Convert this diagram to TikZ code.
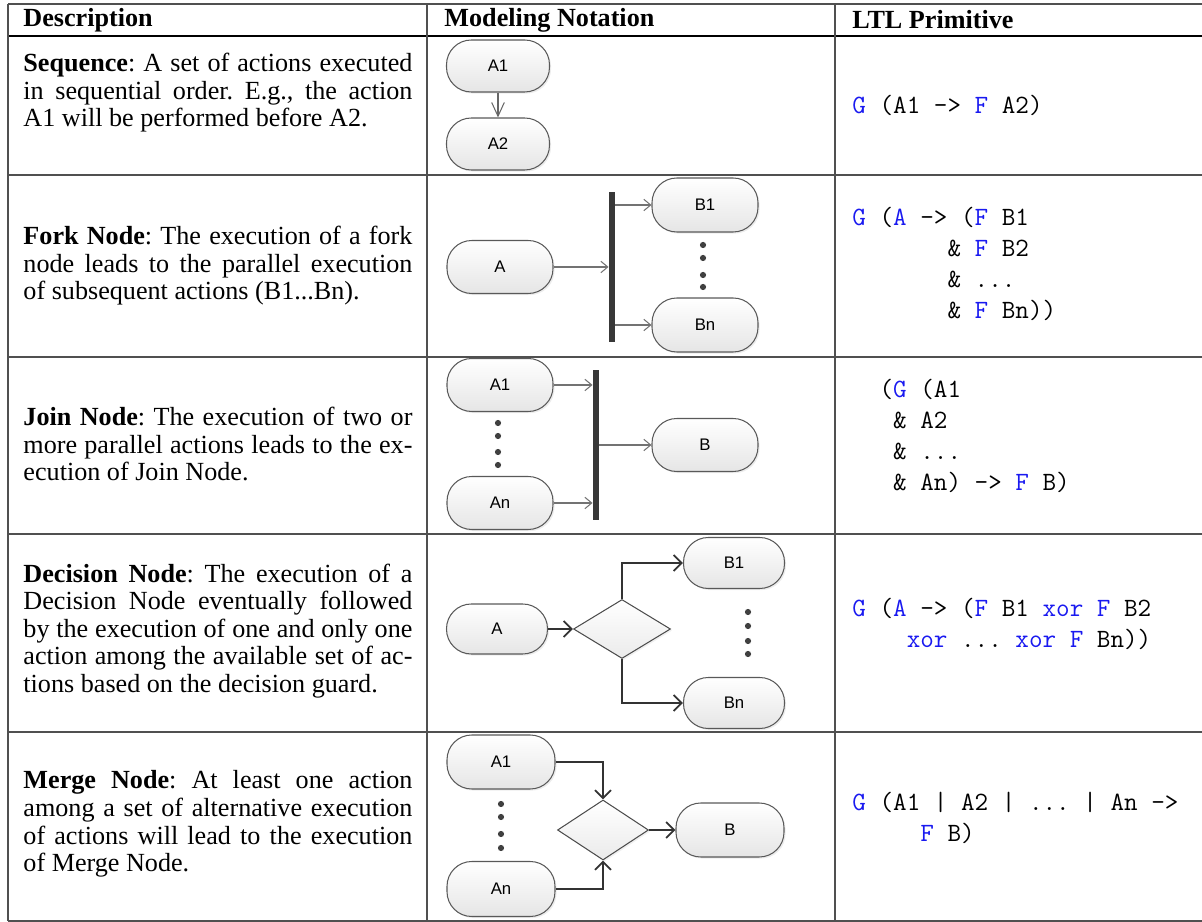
\documentclass[tikz,border=0pt]{standalone}
\usepackage{fontspec}
\setmainfont{Liberation Serif}
\newfontfamily\boxfont{Liberation Sans}
\usetikzlibrary{shapes.geometric,shadows,arrows.meta}
\definecolor{ltlblue}{RGB}{25,25,240}
\definecolor{rulegray}{RGB}{80,80,80}
\newcommand{\px}{0.436pt}
\newcommand{\kw}[1]{\textcolor{ltlblue}{#1}}
\frenchspacing

\begin{document}
\begin{tikzpicture}[x=0.436pt,y=-0.436pt]

      \tikzset{rule/.style={draw=rulegray, line width=0.6pt},
        head/.style={anchor=west, inner sep=0pt, font=\fontsize{11.4}{12}\selectfont\bfseries},
        desc/.style={anchor=west, inner sep=0pt, text width=169.6pt, align=justify, font=\fontsize{11.4}{12}\selectfont},
        ltl/.style={anchor=west, inner sep=0pt, align=left, font=\ttfamily\fontsize{11.5}{13.5}\selectfont},
        action/.style 2 args={draw=black!65, line width=0.45pt, rounded corners=10.8pt, top color=white, bottom color=black!10,
          minimum width=#1*\px, minimum height=#2*\px, inner sep=0pt, font=\boxfont\fontsize{7.3}{8}\selectfont,
          drop shadow={opacity=0.15, shadow xshift=0.7pt, shadow yshift=-0.7pt}},
        guard/.style 2 args={diamond, draw=black!70, line width=0.45pt, top color=white, bottom color=black!8,
          minimum width=#1*\px, minimum height=#2*\px, inner sep=0pt,
          drop shadow={opacity=0.12, shadow xshift=0.7pt, shadow yshift=-0.7pt}},
        syncbar/.style={fill=black!78, inner sep=0pt, minimum width=6*\px, minimum height=150*\px},
        seqflow/.style={draw=black!60, line width=0.45pt, -{Straight Barb[length=6pt,width=5.5pt]}},
        barflow/.style={draw=black!55, line width=0.45pt, -{Straight Barb[length=3pt,width=5pt]}},
        guardflow/.style={draw=black!80, line width=0.8pt, -{Straight Barb[length=3.5pt,width=7pt]}},
        dot/.style={fill=black!75}}

      \useasboundingbox (0,0) rectangle (1202,922);

%% Table rules
      \draw[rule] (8,4) -- (1202,4);
      \draw[rule, draw=black, line width=0.75pt] (8,36) -- (1202,36);
      \foreach \y in {175,357,534,732,921}
        \draw[rule] (8,\y) -- (1202,\y);
      \foreach \x in {8,427,835}
        \draw[rule] (\x,4) -- (\x,921);

%% Header
      \node[head] (hdesc) at (23,20) {Description};
      \node[head] (hnot) at (444,20) {Modeling Notation};
      \node[head] (hltl) at (852,20) {LTL Primitive};

%% Descriptions
      \node[desc] (dseq) at (23,93) {\textbf{Sequence}: A set of actions executed\linebreak
        in sequential order. E.g., the action\linebreak A1 will be performed before A2.};
      \node[desc] (dfork) at (23,266) {\textbf{Fork Node}: The execution of a fork\linebreak
        node leads to the parallel execution\linebreak of subsequent actions (B1...Bn).};
      \node[desc] (djoin) at (23,444) {\textbf{Join Node}: The execution of two or\linebreak
        more parallel actions leads to the ex-\linebreak ecution of Join Node.};
      \node[desc] (ddec) at (23,631) {\textbf{Decision Node}: The execution of a\linebreak
        Decision Node eventually followed\linebreak by the execution of one and only one\linebreak
        action among the available set of ac-\linebreak tions based on the decision guard.};
      \node[desc] (dmerge) at (23,824) {\textbf{Merge Node}: At least one action\linebreak
        among a set of alternative execution\linebreak of actions will lead to the execution\linebreak
        of Merge Node.};

%% LTL primitives
      \node[ltl] (lseq) at (852,105) {\kw{G} (A1 -> \kw{F} A2)};
      \node[ltl] (lfork) at (852,264) {\kw{G} (\kw{A} -> (\kw{F} B1\\
        \phantom{G (A ->}\& \kw{F} B2\\ \phantom{G (A ->}\& ...\\ \phantom{G (A ->}\& \kw{F} Bn))};
      \node[ltl] (ljoin) at (852,436) {\phantom{xx}(\kw{G} (A1\\
        \phantom{xxx}\& A2\\ \phantom{xxx}\& ...\\ \phantom{xxx}\& An) -> \kw{F} B)};
      \node[ltl] (ldec) at (852,624) {\kw{G} (\kw{A} -> (\kw{F} B1 \kw{xor} \kw{F} B2\\
        \phantom{xxxx}\kw{xor} ... \kw{xor} \kw{F} Bn))};
      \node[ltl] (lmerge) at (852,818) {\kw{G} (A1 | A2 | ... | An ->\\
        \phantom{xxxxx}\kw{F} B)};

%% Sequence
      \node[action={103}{52}] (sa1) at (498,66) {A1};
      \node[action={103}{52}] (sa2) at (498,144) {A2};
      \path[seqflow] (sa1) edge (sa2);

%% Fork
      \node[action={106}{53}] (fa) at (500,267) {A};
      \node[syncbar] (fbar) at (612,267) {};
      \node[action={106}{54}] (fb1) at (705,205) {B1};
      \node[action={106}{54}] (fbn) at (705,325) {Bn};
      \draw[barflow] (fa) -- (fa -| fbar.west);
      \draw[barflow] (fb1 -| fbar.east) -- (fb1);
      \draw[barflow] (fbn -| fbar.east) -- (fbn);
      \foreach \y in {245,258,275,287}
        \fill[dot] (703,\y) circle (1.35pt);

%% Join
      \node[action={106}{53}] (ja1) at (500,385) {A1};
      \node[action={106}{53}] (jan) at (500,503) {An};
      \node[syncbar] (jbar) at (596,445) {};
      \node[action={106}{53}] (jb) at (705,445) {B};
      \draw[barflow] (ja1) -- (ja1 -| jbar.west);
      \draw[barflow] (jan) -- (jan -| jbar.west);
      \draw[barflow] (jb -| jbar.east) -- (jb);
      \foreach \y in {423,436,452,465}
        \fill[dot] (498,\y) circle (1.35pt);

%% Decision
      \node[action={101}{50}] (da) at (497,629) {A};
      \node[guard={97}{59}] (dd) at (622,629) {};
      \node[action={101}{51}] (db1) at (734,563) {B1};
      \node[action={101}{51}] (dbn) at (734,703) {Bn};
      \draw[guardflow] (da) -- (dd);
      \draw[guardflow] (dd.north) |- (db1);
      \draw[guardflow] (dd.south) |- (dbn);
      \foreach \y in {612,626,641,654}
        \fill[dot] (748,\y) circle (1.35pt);

%% Merge
      \node[action={108}{54}] (ma1) at (501,762) {A1};
      \node[action={108}{55}] (man) at (501,889) {An};
      \node[guard={91}{60}] (md) at (603,830) {};
      \node[action={108}{54}] (mb) at (730,830) {B};
      \draw[guardflow] (ma1) -| (md.north);
      \draw[guardflow] (man) -| (md.south);
      \draw[guardflow] (md) -- (mb);
      \foreach \y in {804,817,834,848}
        \fill[dot] (501,\y) circle (1.35pt);

\end{tikzpicture}
\end{document}
